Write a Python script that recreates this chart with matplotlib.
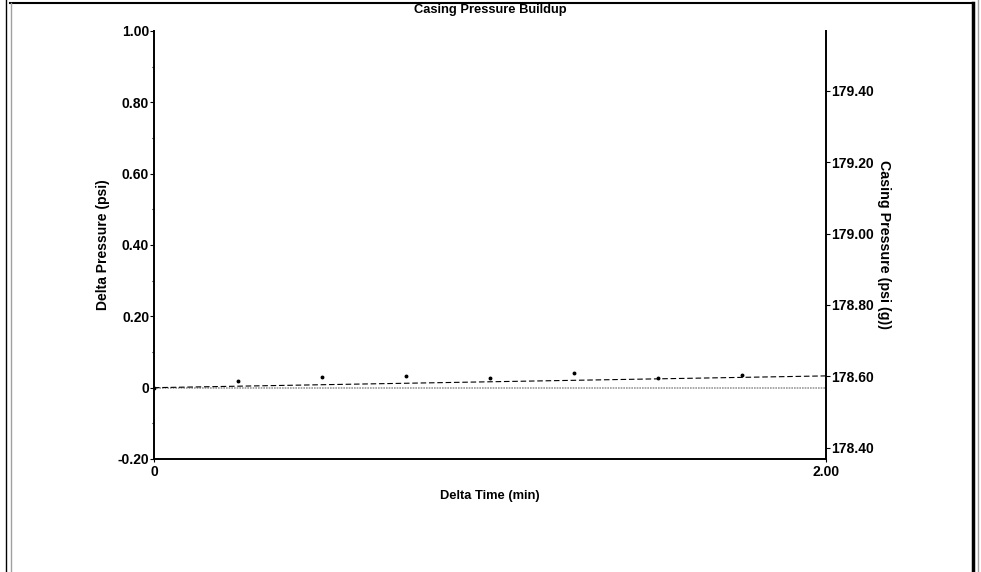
import matplotlib
matplotlib.use("Agg")
import matplotlib.pyplot as plt
from matplotlib.lines import Line2D
from matplotlib.ticker import FixedLocator, FuncFormatter

plt.rcParams['font.family'] = ['Liberation Sans', 'DejaVu Sans']
plt.rcParams['font.weight'] = 'bold'

# readings
time_min = [0.0, 0.25, 0.50, 0.75, 1.00, 1.25, 1.50, 1.75]
delta_psi = [0.0, 0.018, 0.029, 0.032, 0.026, 0.041, 0.027, 0.036]
trend_time = [0.0, 2.0]
trend_delta = [0.0, 0.033]
initial_casing = 178.568

left_ticks = [-0.20, 0.0, 0.20, 0.40, 0.60, 0.80, 1.00]
right_ticks = [178.40, 178.60, 178.80, 179.00, 179.20, 179.40]
x_ticks = [0.0, 2.0]


def fmt(v, pos=None):
    if abs(v) < 1e-9:
        return "0"
    return f"{v:.2f}"


W, H = 981, 572
fig = plt.figure(figsize=(W / 100, H / 100), dpi=100)
ax = fig.add_axes([154 / W, 1 - 459 / H, (826 - 154) / W, (459 - 31) / H])

ax.axhline(0, color="#9a9a9a", lw=1.2, ls=(0, (1, 0.6)), zorder=1)
ax.plot(trend_time, trend_delta, color="black", lw=0.8, ls=(0, (5, 2.5)), zorder=2)
ax.plot(time_min, delta_psi, ls="none", marker="o", ms=1.8, color="black", zorder=3)

ax.set_xlim(0, 2.0)
ax.set_ylim(-0.2, 1.0)
ax.spines["top"].set_visible(False)
ax.spines["right"].set_visible(False)
for s in ("left", "bottom"):
    ax.spines[s].set_linewidth(1.4)

ax.xaxis.set_major_locator(FixedLocator(x_ticks))
ax.yaxis.set_major_locator(FixedLocator(left_ticks))
ax.yaxis.set_minor_locator(FixedLocator([-0.1, 0.1, 0.3, 0.5, 0.7, 0.9]))
ax.xaxis.set_major_formatter(FuncFormatter(fmt))
ax.yaxis.set_major_formatter(FuncFormatter(fmt))
ax.tick_params(axis="y", which="major", length=3, width=0.8, pad=0.5, labelsize=10)
ax.tick_params(axis="y", which="minor", length=1.5, width=0.8)
ax.tick_params(axis="x", which="major", length=2, width=0.8, pad=2, labelsize=10)

ax.set_xlabel("Delta Time (min)", fontsize=9.3, fontweight="bold")
ax.xaxis.set_label_coords(0.5, -0.072)
ax.set_ylabel("Delta Pressure (psi)", fontsize=10, fontweight="bold", va="center")
ax.yaxis.set_label_coords(-0.076, 0.5)

# right axis: absolute casing pressure
ax2 = ax.twinx()
ax2.set_ylim(-0.2 + initial_casing, 1.0 + initial_casing)
ax2.yaxis.set_major_locator(FixedLocator(right_ticks))
ax2.yaxis.set_major_formatter(FuncFormatter(fmt))
ax2.tick_params(axis="y", length=3, width=0.8, pad=0.5, labelsize=10)
for s in ("top", "left", "bottom"):
    ax2.spines[s].set_visible(False)
ax2.spines["right"].set_linewidth(1.4)
ax2.set_ylabel("Casing Pressure (psi (g))", fontsize=10.3, fontweight="bold",
               rotation=-90, va="center")
ax2.yaxis.set_label_coords(1.086, 0.5)

fig.text(490 / W, 1 - 9.5 / H, "Casing Pressure Buildup", ha="center", va="center",
         fontsize=9.3, fontweight="bold")


# panel border
def fline(x0, y0, x1, y1, **kw):
    fig.add_artist(Line2D([x0 / W, x1 / W], [1 - y0 / H, 1 - y1 / H],
                          transform=fig.transFigure, **kw))


fline(5.5, 0, 5.5, H, color="black", lw=1)
fline(10, 3, 973, 3, color="black", lw=1.5)
fline(11, 3, 11, H, color="#a0a0a0", lw=1)
fline(973, 3, 973, H, color="black", lw=2.5)
fline(977.5, 0, 977.5, H, color="#a0a0a0", lw=1)

fig.savefig("out.png", dpi=100)
